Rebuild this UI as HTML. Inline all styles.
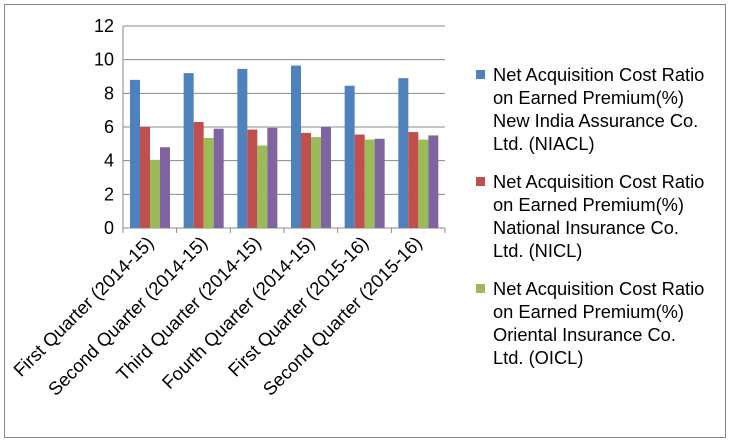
<!DOCTYPE html>
<html><head><meta charset="utf-8"><style>
body{margin:0;background:#fff}
svg{font-family:"Liberation Sans",sans-serif}
</style></head><body>
<svg width="731" height="443">
<rect x="4.5" y="4.5" width="721" height="433" fill="#fff" stroke="#888"/>
<g id="grid"></g><g id="bars"></g><g id="axes"></g><g id="legend"></g>
</svg>
<script>
const categories=["First Quarter (2014-15)","Second Quarter (2014-15)","Third Quarter (2014-15)","Fourth Quarter (2014-15)","First Quarter (2015-16)","Second Quarter (2015-16)"];
const niacl=[8.8,9.2,9.45,9.65,8.45,8.9];
const nicl=[6.0,6.3,5.85,5.65,5.55,5.7];
const oicl=[4.05,5.35,4.9,5.4,5.25,5.25];
const fourth=[4.8,5.9,5.95,6.0,5.3,5.5];
const yTicks=[0,2,4,6,8,10,12];
const legendLabels=[["Net Acquisition Cost Ratio","on Earned Premium(%)","New India Assurance Co.","Ltd. (NIACL)"],["Net Acquisition Cost Ratio","on Earned Premium(%)","National Insurance Co.","Ltd. (NICL)"],["Net Acquisition Cost Ratio","on Earned Premium(%)","Oriental Insurance Co.","Ltd. (OICL)"]];
const series=[niacl,nicl,oicl,fourth];
const colors=["#4f81bd","#c0504d","#9bbb59","#8064a2"];
const NS="http://www.w3.org/2000/svg";
const x0=123,x1=445,y0=228,yTop=26,ymax=12;
const cw=(x1-x0)/categories.length;
const ys=v=>y0-(v/ymax)*(y0-yTop);
function mk(t,a,p){const e=document.createElementNS(NS,t);for(const k in a)e.setAttribute(k,a[k]);p.appendChild(e);return e;}
const G=document.getElementById('grid'),B=document.getElementById('bars'),A=document.getElementById('axes'),L=document.getElementById('legend');
yTicks.forEach(t=>{const y=ys(t);
 const l=mk('line',{x1:x0,x2:x1,y1:y,y2:y,stroke:'#888'},G);
 
 
 const tx=mk('text',{x:x0-9,y:y+6,'text-anchor':'end','font-size':18,fill:'#000'},A);tx.textContent=t;
 
 
});
mk('line',{x1:x0,x2:x0,y1:yTop,y2:y0+5,stroke:'#888'},A);
categories.forEach((c,i)=>{
 const cx=x0+cw*(i+1);
 mk('line',{x1:cx,x2:cx,y1:y0,y2:y0+5,stroke:'#888'},A);
 series.forEach((s,j)=>{const y=ys(s[i]);
  const r=mk('rect',{x:x0+cw*i+7+j*10,y:y,width:10,height:y0-y,fill:colors[j]},B);
  
  
 });
 const mx=x0+cw*(i+0.5)+5;
 const t=mk('text',{x:mx,y:y0+16,'text-anchor':'end','font-size':18.5,transform:`rotate(-45 ${mx} ${y0+16})`},A);t.textContent=c;
 
 
});
legendLabels.forEach((lines,i)=>{const top=66+i*107;
 const r=mk('rect',{x:476,y:top+4,width:9,height:9,fill:colors[i]},L);
 
 
 lines.forEach((ln,k)=>{const t=mk('text',{x:493,y:top+15+k*23,'font-size':18.3},L);t.textContent=ln;
  
  });
});
</script>
</body></html>
